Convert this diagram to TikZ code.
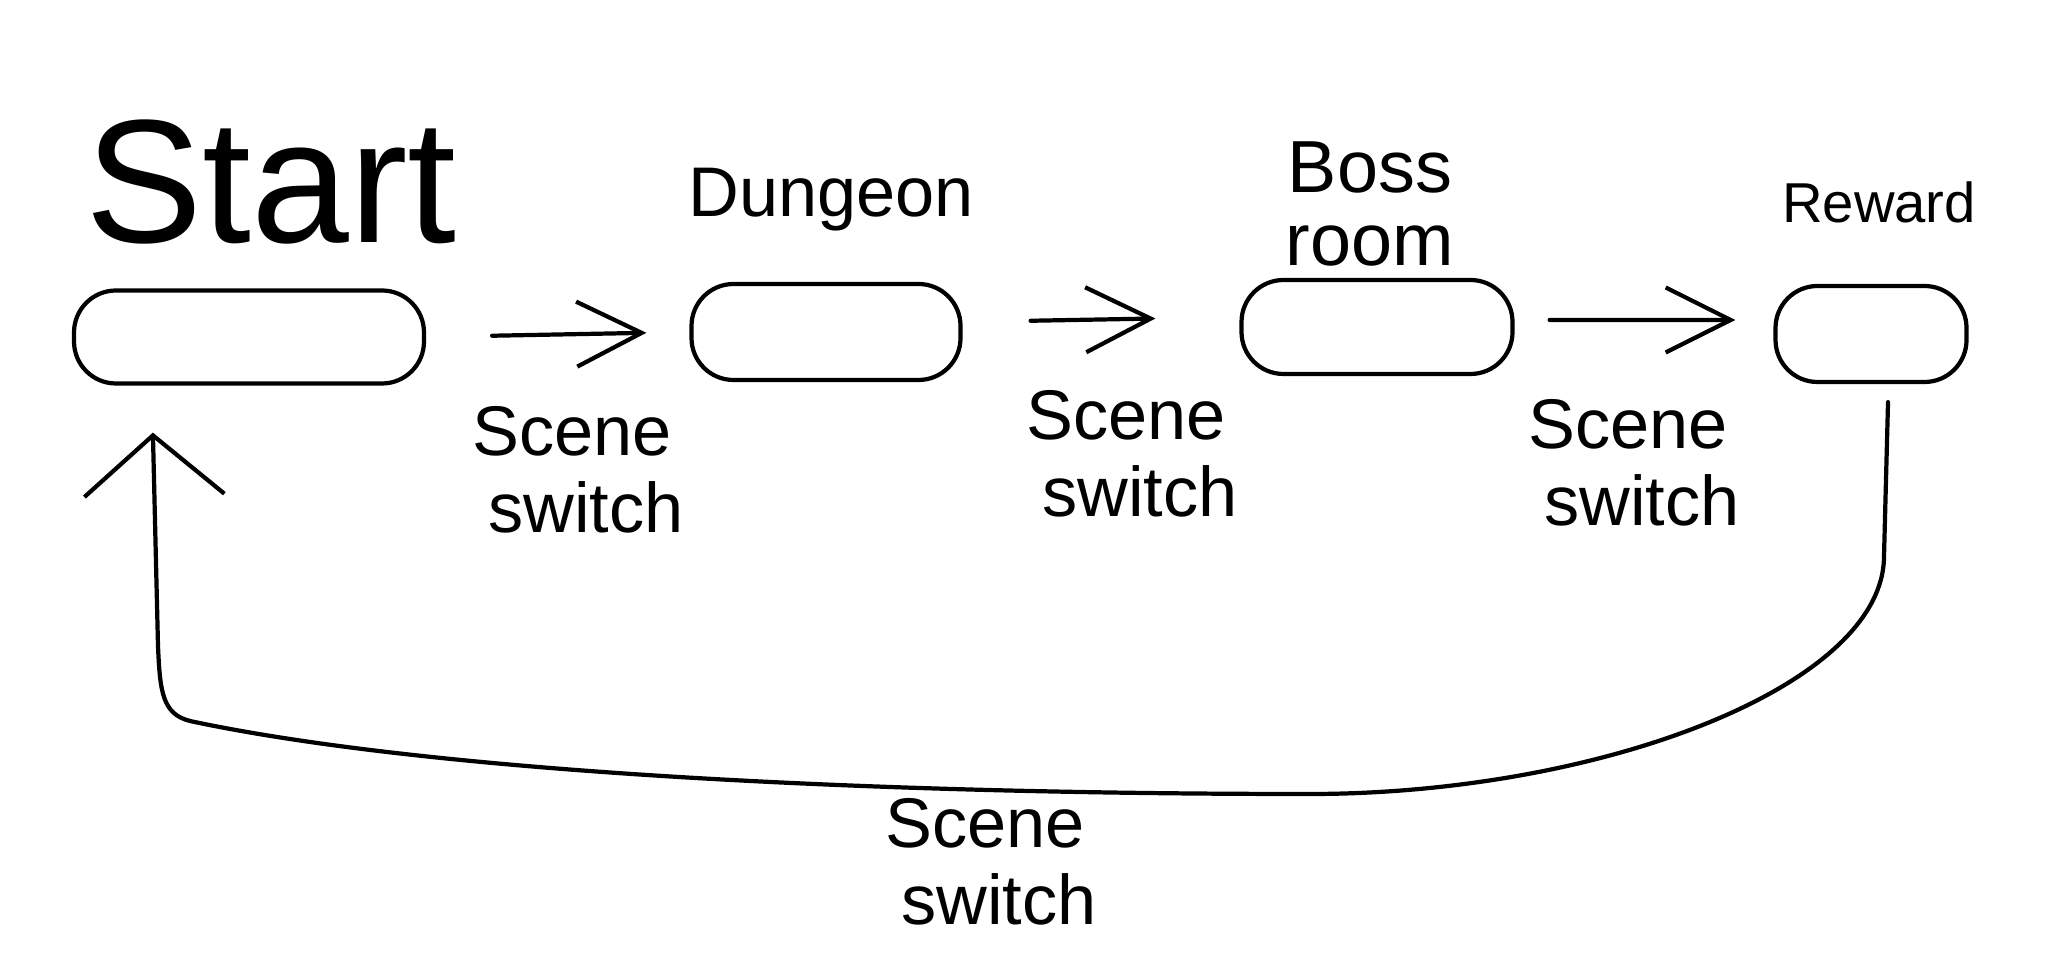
\documentclass[tikz,border=0pt]{standalone}
\usepackage{fontspec}
\setmainfont{Liberation Sans}
\usetikzlibrary{positioning,arrows.meta,calc}

\begin{document}
\begin{tikzpicture}[line width=1.2pt, line cap=round, line join=round,
  room/.style={draw, rounded corners=0.42cm, inner sep=0pt},
  ttl/.style={anchor=base, inner sep=0pt, align=center},
  arr/.style={-{Straight Barb[length=6.5mm, width=6.5mm]}},
  back/.style={-{Straight Barb[length=6mm, width=14mm]}},
  swl/.style={align=left, inner sep=0pt, font=\fontsize{20}{22}\selectfont}]

\useasboundingbox[fill=white] (0,0) rectangle (20.56,9.76);

\node[room, minimum width=3.50cm, minimum height=0.93cm] (start) at (2.49,6.39) {};
\node[room, minimum width=2.69cm, minimum height=0.96cm] (dungeon) at (8.26,6.44) {};
\node[room, minimum width=2.71cm, minimum height=0.94cm] (boss) at (13.77,6.49) {};
\node[room, minimum width=1.91cm, minimum height=0.96cm] (reward) at (18.71,6.42) {};

\node[ttl, font=\fontsize{50}{55}\selectfont] (tstart) at (2.71,7.33) {Start};
\node[ttl, font=\fontsize{20}{22}\selectfont] (tdungeon) at (8.31,7.59) {Dungeon};
\node[ttl, font=\fontsize{21}{21}\selectfont] (tboss) at (13.7,7.10) {Boss\\room};
\node[ttl, font=\fontsize{16}{18}\selectfont] (treward) at (18.79,7.53) {Reward};

\draw[arr, shorten <=0.66cm, shorten >=0.43cm] (start.east) -- (dungeon.west);
\draw[arr, shorten <=0.68cm, shorten >=0.84cm]
  ([yshift=1mm]dungeon.east) -- ([yshift=1mm]boss.west);
\draw[arr, shorten <=0.35cm, shorten >=0.38cm]
  ([yshift=0.7mm]boss.east) -- ([yshift=1.4mm]reward.west);

\node[swl] (sw1) at (5.78,5.06) {Scene\\\hspace*{0.16cm}switch};
\node[swl] (sw2) at (11.32,5.22) {Scene\\\hspace*{0.16cm}switch};
\node[swl] (sw3) at (16.34,5.13) {Scene\\\hspace*{0.16cm}switch};
\node[swl] (sw4) at (9.91,1.14) {Scene\\\hspace*{0.16cm}switch};

\coordinate (rdn) at ($(reward.south)+(0.17,-0.18)$);
\coordinate (sup) at ($(start.south west)+(0.81,-0.47)$);
\draw[back] (rdn) -- (18.84,4.2) .. controls (18.84,2.9) and (16,1.82) .. (13.1,1.82)
  .. controls (8,1.82) and (4,2.1) .. (1.9,2.55)
  .. controls (1.62,2.62) and (1.60,2.85) .. (1.58,3.3) -- (sup);
\end{tikzpicture}
\end{document}
